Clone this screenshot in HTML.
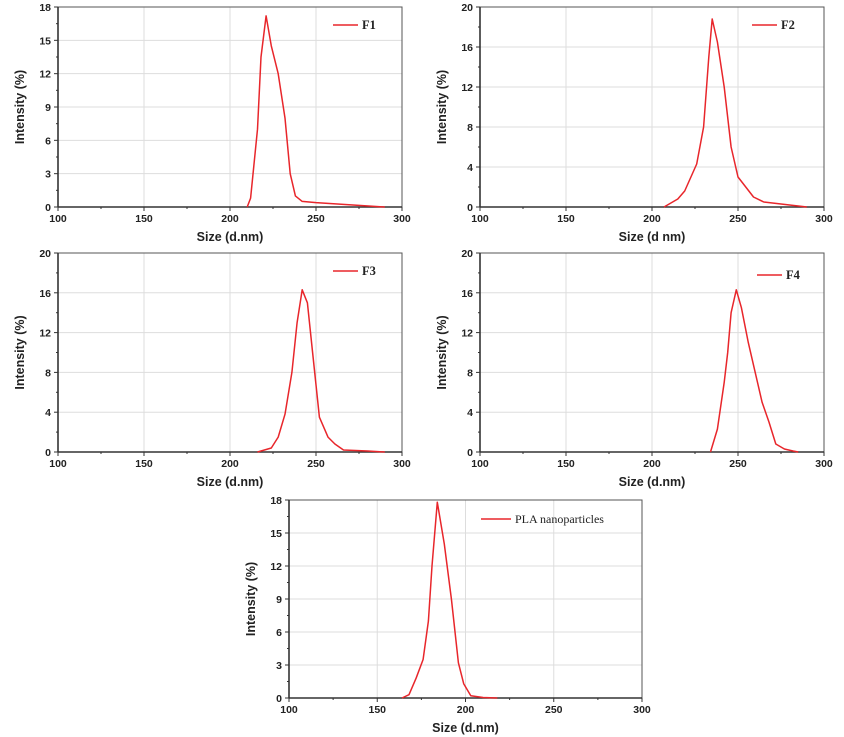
<!DOCTYPE html>
<html><head><meta charset="utf-8"><style>
html,body{margin:0;padding:0;background:#fff;width:844px;height:737px;overflow:hidden}
svg{display:block}
text{font-family:"Liberation Sans",Arial,sans-serif}
</style></head><body>
<svg id="chart" width="844" height="737" viewBox="0 0 844 737" xmlns="http://www.w3.org/2000/svg"></svg>
<script>
// ---- data ----
const f1X = [210,212,216,218,221,224,228,232,235,238,242,246,250,290];
const f1Y = [0,0.8,7,13.5,17.2,14.5,12,8,3,1,0.5,0.45,0.4,0];
const f2X = [207,215,219,226,230,233,235,238,242,246,250,259,265,280,290];
const f2Y = [0,0.8,1.6,4.3,8,15,18.8,16.5,12,6,3,1,0.5,0.2,0];
const f3X = [216,224,228,232,236,239,242,245,248,252,257,261,266,280,290];
const f3Y = [0,0.4,1.5,3.8,8,13,16.3,15,10,3.5,1.5,0.8,0.2,0.1,0];
const f4X = [234,238,242,244,246,249,252,256,260,264,268,272,277,282,285];
const f4Y = [0,2.3,7,10,14,16.3,14.5,11,8,5,3,0.8,0.3,0.1,0];
const plaX = [164,168,172,176,179,181,184,188,192,196,199,203,210,218];
const plaY = [0,0.3,1.8,3.5,7,12,17.8,14,9,3.2,1.3,0.2,0.05,0];
const xTicks = [100,150,200,250,300];
const yTicks18 = [0,3,6,9,12,15,18];
const yTicks20 = [0,4,8,12,16,20];
const seriesNames = ["F1","F2","F3","F4","PLA nanoparticles"];

const NS="http://www.w3.org/2000/svg";
const svg=document.getElementById('chart');
function mk(tag,attrs,parent){const e=document.createElementNS(NS,tag);for(const k in attrs)e.setAttribute(k,attrs[k]);(parent||svg).appendChild(e);return e;}

const panels=[
 {id:'f1',L:58,R:402,T:7,B:207,ymax:18,yt:yTicks18,xs:f1X,ys:f1Y,name:seriesNames[0],xt:'Size (d.nm)',lg:[333,25]},
 {id:'f2',L:480,R:824,T:7,B:207,ymax:20,yt:yTicks20,xs:f2X,ys:f2Y,name:seriesNames[1],xt:'Size (d nm)',lg:[752,25]},
 {id:'f3',L:58,R:402,T:253,B:452,ymax:20,yt:yTicks20,xs:f3X,ys:f3Y,name:seriesNames[2],xt:'Size (d.nm)',lg:[333,271]},
 {id:'f4',L:480,R:824,T:253,B:452,ymax:20,yt:yTicks20,xs:f4X,ys:f4Y,name:seriesNames[3],xt:'Size (d.nm)',lg:[757,275]},
 {id:'pla',L:289,R:642,T:500,B:698,ymax:18,yt:yTicks18,xs:plaX,ys:plaY,name:seriesNames[4],xt:'Size (d.nm)',lg:[481,519]}
];

panels.forEach(p=>{
 const g=mk('g',{});
 
 
 const sx=v=>p.L+(v-100)/200*(p.R-p.L);
 const sy=v=>p.B-v/p.ymax*(p.B-p.T);
 // grid
 xTicks.forEach(t=>{if(t>100&&t<300){const l=mk('line',{x1:sx(t),x2:sx(t),y1:p.T,y2:p.B,stroke:'#ddd','stroke-width':1},g);
  }});
 p.yt.forEach(t=>{if(t>0&&t<p.ymax){const l=mk('line',{x1:p.L,x2:p.R,y1:sy(t),y2:sy(t),stroke:'#ddd','stroke-width':1},g);
  }});
 // frame
 const fr=mk('rect',{x:p.L,y:p.T,width:p.R-p.L,height:p.B-p.T,fill:'none',stroke:'#555','stroke-width':1},g);
 
 const ax=mk('line',{x1:p.L,x2:p.R,y1:p.B,y2:p.B,stroke:'#333','stroke-width':1.6},g);
 
 const ay=mk('line',{x1:p.L,x2:p.L,y1:p.T,y2:p.B,stroke:'#333','stroke-width':1.6},g);
 
 // x ticks
 for(let v=100;v<=300;v+=25){mk('line',{x1:sx(v),x2:sx(v),y1:p.B,y2:p.B+(v%50===0?4:2),stroke:'#333','stroke-width':1},g);}
 xTicks.forEach(t=>{const tx=mk('text',{x:sx(t),y:p.B+15,'text-anchor':'middle','font-size':10.5,'font-weight':'bold',fill:'#222'},g);
  tx.textContent=t;});
 // y ticks
 const step=p.yt[1];
 for(let v=0;v<=p.ymax;v+=step/2){mk('line',{x1:p.L,x2:p.L-(v%step===0?4:2),y1:sy(v),y2:sy(v),stroke:'#333','stroke-width':1},g);}
 p.yt.forEach(t=>{const tx=mk('text',{x:p.L-7,y:sy(t)+4,'text-anchor':'end','font-size':10.5,'font-weight':'bold',fill:'#222'},g);
  tx.textContent=t;});
 // titles
 const xt=mk('text',{x:(p.L+p.R)/2,y:p.B+34,'text-anchor':'middle','font-size':12.5,'font-weight':'bold',fill:'#222'},g);
 xt.textContent=p.xt;
 const cy=(p.T+p.B)/2;
 const yt=mk('text',{x:p.L-38,y:cy,'text-anchor':'middle','font-size':12.5,'font-weight':'bold',fill:'#222',transform:`rotate(-90 ${p.L-38} ${cy}) translate(0 4)`},g);
 yt.textContent='Intensity (%)';
 // series
 const d=p.xs.map((x,i)=>(i?'L':'M')+sx(x).toFixed(1)+' '+sy(p.ys[i]).toFixed(1)).join(' ');
 const ln=mk('path',{d:d,fill:'none',stroke:'#e8262b','stroke-width':1.5,'stroke-linejoin':'round'},g);
 
 // legend
 const lg=mk('g',{},g);
 
 const lw=p.id==='pla'?30:25;
 mk('line',{x1:p.lg[0],x2:p.lg[0]+lw,y1:p.lg[1],y2:p.lg[1],stroke:'#e8262b','stroke-width':1.5},lg);
 const lt=mk('text',{x:p.lg[0]+lw+4,y:p.lg[1]+4,'font-size':p.id==='pla'?12:12.5,'font-weight':p.id==='pla'?'normal':'bold',fill:'#222'},lg);
 lt.setAttribute('style','font-family:"Liberation Serif",serif');
 lt.textContent=p.name;
});
</script>
</body></html>
